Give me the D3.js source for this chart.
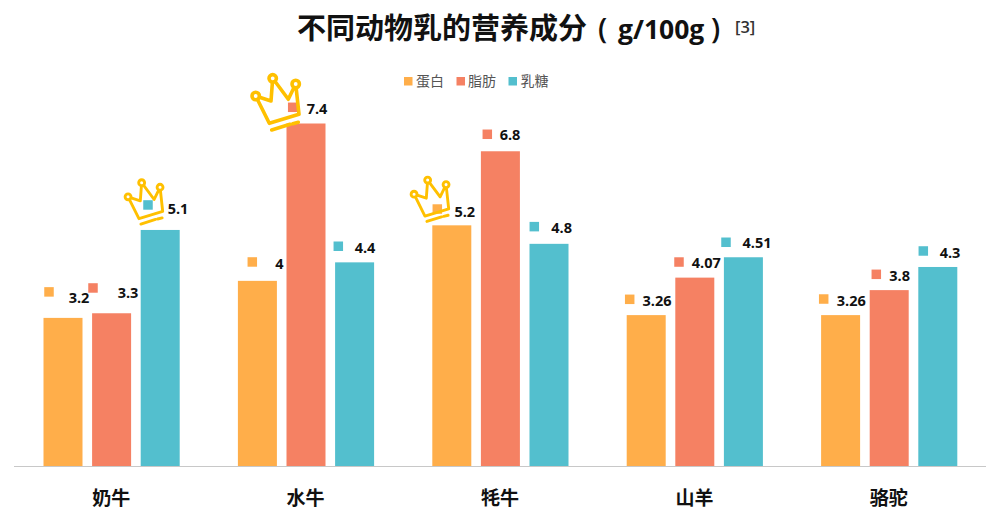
<!DOCTYPE html>
<html><head><meta charset="utf-8">
<script src="https://cdn.jsdelivr.net/npm/d3@7/dist/d3.min.js"></script>
<style>html,body{margin:0;padding:0;background:#fff}svg{display:block}
text{font-family:"Open Sans","Noto Sans CJK SC",sans-serif}
.cjk{font-family:"Noto Sans CJK SC",sans-serif}</style></head>
<body><svg id="c" width="1000" height="514"></svg>
<script>
const categories = ["奶牛","水牛","牦牛","山羊","骆驼"];
const seriesNames = ["蛋白","脂肪","乳糖"];
const protein = [3.2,4,5.2,3.26,3.26];
const fat = [3.3,7.4,6.8,4.07,3.8];
const lactose = [5.1,4.4,4.8,4.51,4.3];
const seriesValues = [protein,fat,lactose];
const colors = ["#FFAE4A","#F58163","#53BFCE"];
// hand-placed data-label layout offsets: [keyDx,keyDy,textDx,textDy] from bar top centre
const labelLayout = [
 [[-14,-26,16,-20],[-18.6,-25.3,16.4,-20.3],[-12.2,-25,17.8,-21]],
 [[-5.1,-18.9,22.1,-17.2],[-13.3,-16.2,11,-15.5],[-16.3,-16.1,10.4,-14.7]],
 [[-14.5,-16.3,13,-14.3],[-13.1,-17,9.6,-16.3],[-14.7,-17.2,12.7,-16.2]],
 [[-16.5,-15.8,10.8,-14.8],[-15.8,-15.6,11.5,-14.9],[-17.4,-15,13.6,-14.3]],
 [[-16.9,-16.1,10.7,-14.8],[-12.9,-15.8,10.5,-15.1],[-14.5,-16,12.2,-14.7]]
];
// decorative crowns: which bar each one sits on, and its placement
const crowns = [
 {c:0,s:2,k:.8,dx:-16.7,dy:-29.9},
 {c:1,s:1,k:1,dx:-31,dy:-23.5},
 {c:2,s:0,k:.8,dx:-22.3,dy:-27.9}
];

const svg = d3.select("#c");
const y = d3.scaleLinear().domain([0,7.4]).range([466,123.5]);
const x0 = d3.scaleBand().domain(categories).range([14,986]);
const groupW = 136.2;
const x1 = d3.scaleBand().domain(seriesNames).range([0,groupW]).paddingInner(0.1975).paddingOuter(0);
const off = (x0.bandwidth()-groupW)/2+0.4;
const barCx = (ci,si)=>x0(categories[ci])+off+x1(seriesNames[si])+x1.bandwidth()/2;

categories.forEach((cat,ci)=>{
  seriesNames.forEach((s,si)=>{
    const v = seriesValues[si][ci], top = y(v);
    svg.append("rect").attr("x",barCx(ci,si)-x1.bandwidth()/2).attr("y",top).attr("width",x1.bandwidth()).attr("height",y(0)-top).attr("fill",colors[si]);
  });
});
svg.append("line").attr("x1",14).attr("x2",986).attr("y1",466.5).attr("y2",466.5).attr("stroke","#c8c8c8").attr("stroke-width",1.2);

// data labels
categories.forEach((cat,ci)=>{
  seriesNames.forEach((s,si)=>{
    const v = seriesValues[si][ci], cx = barCx(ci,si), top = y(v), l = labelLayout[ci][si];
    svg.append("rect").attr("x",cx+l[0]-4.75).attr("y",top+l[1]-4.75).attr("width",9.5).attr("height",9.5).attr("fill",colors[si]);
    svg.append("text").attr("x",cx+l[2]).attr("y",top+l[3]).attr("text-anchor","middle").attr("dominant-baseline","central")
      .attr("font-size",14.5).attr("font-weight",700).attr("fill","#111").text(v);
  });
});

// crowns (drawn over the label keys)
crowns.forEach(cr=>{
  const cg = svg.append("g").attr("transform",`translate(${barCx(cr.c,cr.s)+cr.dx},${y(seriesValues[cr.s][cr.c])+cr.dy}) scale(${cr.k})`)
    .attr("fill","none").attr("stroke","#FFC000").attr("stroke-width",3.6).attr("stroke-linecap","round").attr("stroke-linejoin","round");
  cg.append("path").attr("d","M-19.3,-4 L-5.7,23.3 L24,14.3 L20.7,-16 L13.3,-0.7 L-2.3,-21.7 L-4,1 Z");
  [[-19.3,-4],[-2.3,-21.7],[20.7,-16]].forEach(p=>cg.append("circle").attr("cx",p[0]).attr("cy",p[1]).attr("r",3.7).attr("fill","#fff"));
  cg.append("path").attr("d","M-3.3,30 L15,24.3 M17.7,23.7 L23.3,22.3");
});

// category labels
svg.selectAll(".cat").data(categories).join("text").attr("class","cjk")
  .attr("x",d=>x0(d)+x0.bandwidth()/2).attr("y",505).attr("text-anchor","middle")
  .attr("font-size",19).attr("font-weight",700).attr("fill","#111").text(d=>d);

// legend
const legendX=[404,456.5,508.5], legendTextX=[416,468,520.5];
seriesNames.forEach((s,i)=>{
  svg.append("rect").attr("x",legendX[i]).attr("y",77).attr("width",8.5).attr("height",8.5).attr("fill",colors[i]);
  svg.append("text").attr("class","cjk").attr("x",legendTextX[i]).attr("y",86).attr("font-size",14).attr("fill","#555").text(s);
});

// title
svg.append("text").attr("class","cjk").attr("x",297).attr("y",39).attr("font-size",29).attr("font-weight",700).attr("fill","#111").text("不同动物乳的营养成分");
svg.append("text").attr("x",598).attr("y",39).attr("font-size",29).attr("font-weight",600).attr("fill","#111").text("(");
svg.append("text").attr("x",618).attr("y",39).attr("font-size",26.5).attr("font-weight",700).attr("fill","#111").text("g/100g");
svg.append("text").attr("x",711).attr("y",39).attr("font-size",29).attr("font-weight",600).attr("fill","#111").text(")");
svg.append("text").attr("x",735).attr("y",33).attr("font-size",16.5).attr("font-weight",600).attr("fill","#333").text("[3]");
</script></body></html>
